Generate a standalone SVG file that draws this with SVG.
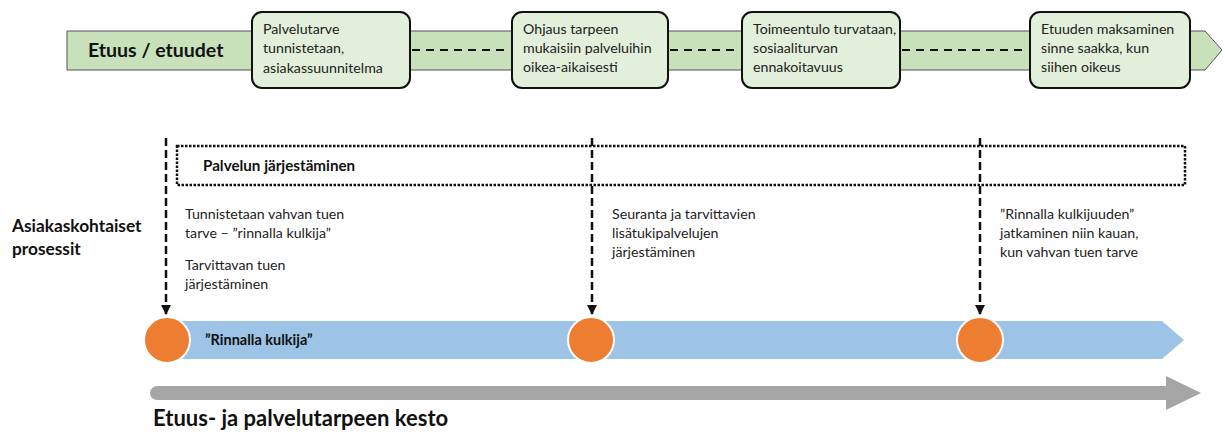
<svg xmlns="http://www.w3.org/2000/svg" width="1225" height="432" viewBox="0 0 1225 432">
<defs>
<style>
.t{font-family:Lato,"Open Sans","Liberation Sans",sans-serif;font-size:14.2px;fill:#222}
.b{font-family:Lato,"Open Sans","Liberation Sans",sans-serif;font-weight:bold;fill:#111}
.box{fill:#E2EFDA;stroke:#111;stroke-width:2}
.dash{stroke:#111;stroke-width:2;stroke-dasharray:8,6;fill:none}
.vd{stroke:#111;stroke-width:2.5;stroke-dasharray:8,4;fill:none}
.c{fill:#ED7D31;stroke:#fff;stroke-width:2}
</style>
<marker id="ah" viewBox="0 0 10 10" refX="9" refY="5" markerWidth="4" markerHeight="4" orient="auto" markerUnits="strokeWidth">
<path d="M0,0 L10,5 L0,10 z" fill="#111"/>
</marker>
</defs>
<rect width="1225" height="432" fill="#fff"/>

<g id="benefit-band">
<polygon points="67,31 1205,31 1222,50 1205,70 67,70" fill="#C9E1BA" stroke="#555" stroke-width="1"/>
<text class="b" x="88" y="57" font-size="19.5">Etuus / etuudet</text>
</g>

<g id="connectors">
<line class="dash" x1="412" y1="50" x2="510" y2="50"/>
<line class="dash" x1="670" y1="50" x2="740" y2="50"/>
<line class="dash" x1="902" y1="50" x2="1028" y2="50"/>
<line class="vd" x1="166" y1="138" x2="166" y2="314" marker-end="url(#ah)"/>
<line class="vd" x1="592" y1="138" x2="592" y2="314" marker-end="url(#ah)"/>
<line class="vd" x1="980" y1="138" x2="980" y2="314" marker-end="url(#ah)"/>
</g>

<g id="box1">
<rect class="box" x="252" y="12" width="158" height="76" rx="10"/>
<text class="t" x="263" y="34">Palvelutarve</text>
<text class="t" x="263" y="53">tunnistetaan,</text>
<text class="t" x="263" y="73">asiakassuunnitelma</text>
</g>
<g id="box2">
<rect class="box" x="512" y="12" width="156" height="76" rx="10"/>
<text class="t" x="523" y="34">Ohjaus tarpeen</text>
<text class="t" x="523" y="53">mukaisiin palveluihin</text>
<text class="t" x="523" y="72">oikea-aikaisesti</text>
</g>
<g id="box3">
<rect class="box" x="742" y="12" width="158" height="76" rx="10"/>
<text class="t" x="753" y="34">Toimeentulo turvataan,</text>
<text class="t" x="753" y="53">sosiaaliturvan</text>
<text class="t" x="753" y="72">ennakoitavuus</text>
</g>
<g id="box4">
<rect class="box" x="1030" y="12" width="160" height="76" rx="10"/>
<text class="t" x="1041" y="34">Etuuden maksaminen</text>
<text class="t" x="1041" y="53">sinne saakka, kun</text>
<text class="t" x="1041" y="72">siihen oikeus</text>
</g>

<g id="service-arrangement">
<rect x="177" y="146" width="1008" height="39" fill="none" stroke="#111" stroke-width="2.5" stroke-dasharray="2.5,1.5"/>
<text class="b" x="203" y="171" font-size="15.2">Palvelun järjestäminen</text>
</g>

<g id="process-label">
<text class="b" x="12" y="232" font-size="17.3">Asiakaskohtaiset</text>
<text class="b" x="12" y="255" font-size="17.3">prosessit</text>
</g>

<g id="step1">
<text class="t" x="185" y="219">Tunnistetaan vahvan tuen</text>
<text class="t" x="185" y="238">tarve – ”rinnalla kulkija”</text>
<text class="t" x="185" y="270">Tarvittavan tuen</text>
<text class="t" x="185" y="289">järjestäminen</text>
</g>
<g id="step2">
<text class="t" x="612" y="219">Seuranta ja tarvittavien</text>
<text class="t" x="612" y="238">lisätukipalvelujen</text>
<text class="t" x="612" y="257">järjestäminen</text>
</g>
<g id="step3">
<text class="t" x="1000" y="219">”Rinnalla kulkijuuden”</text>
<text class="t" x="1000" y="238">jatkaminen niin kauan,</text>
<text class="t" x="1000" y="257">kun vahvan tuen tarve</text>
</g>

<g id="companion-band">
<polygon points="160,321 1162,321 1184,340 1162,359 160,359" fill="#9DC3E6"/>
<text class="b" x="205" y="345" font-size="14.5">”Rinnalla kulkija”</text>
</g>
<g id="milestone1"><circle class="c" cx="167" cy="340" r="23"/></g>
<g id="milestone2"><circle class="c" cx="591" cy="340" r="23"/></g>
<g id="milestone3"><circle class="c" cx="980" cy="340" r="23"/></g>

<g id="duration-arrow">
<path d="M157,386 H1166 V376 L1201,393 L1166,410 V400 H157 A7,7 0 0 1 157,386 Z" fill="#A5A5A5"/>
<text class="b" x="153" y="426" font-size="22">Etuus- ja palvelutarpeen kesto</text>
</g>
</svg>
